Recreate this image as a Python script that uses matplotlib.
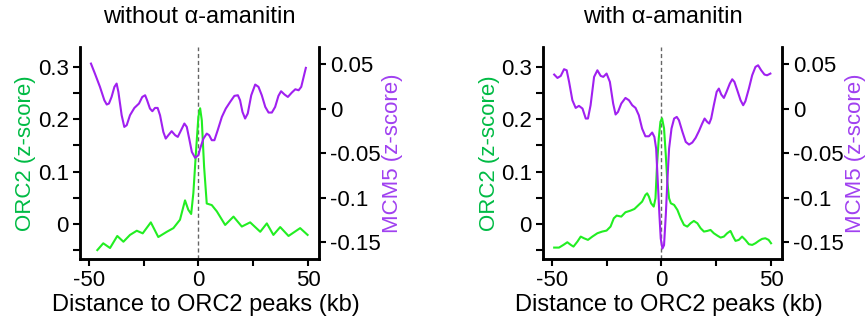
import matplotlib
matplotlib.use("Agg")
import matplotlib.pyplot as plt
from matplotlib.ticker import MultipleLocator

plt.rcParams["font.family"] = ["Liberation Sans", "DejaVu Sans"]

# panel 1: without alpha-amanitin
orc2_x_wo = [-46.1, -43.4, -40.3, -37.0, -34.2, -31.2, -28.1, -25.4, -21.7, -18.3,
             -14.4, -11.4, -8.4, -6.1, -4.6, -3.3, -2.3, -1.05, 0.0, 0.78,
             1.55, 2.6, 3.8, 6.1, 8.4, 12.2, 16.0, 19.8, 23.6, 28.2,
             31.2, 34.2, 37.3, 41.1, 46.4, 49.8]
orc2_y_wo = [-0.050, -0.037, -0.046, -0.023, -0.034, -0.021, -0.013, -0.018, 0.003, -0.025,
             -0.015, -0.008, 0.008, 0.045, 0.027, 0.019, 0.059, 0.141, 0.205, 0.221,
             0.198, 0.109, 0.039, 0.036, 0.024, -0.002, 0.014, -0.005, 0.003, -0.015,
             0.001, -0.021, -0.006, -0.023, -0.008, -0.021]

mcm5_x_wo = [-49.0, -47.2, -44.9, -42.9, -41.8, -40.8, -39.6, -38.3, -37.3, -36.5,
             -35.0, -33.8, -32.7, -31.2, -29.2, -27.1, -25.6, -24.3, -23.4, -22.1,
             -21.0, -19.8, -18.6, -17.5, -16.0, -14.9, -13.7, -12.2, -10.6, -9.4,
             -7.9, -6.4, -5.3, -4.2, -3.0, -1.5, 0.0, 0.78, 2.3, 3.8,
             4.9, 6.1, 7.3, 8.8, 10.7, 12.5, 14.5, 16.4, 18.0, 19.0,
             20.1, 21.3, 22.5, 24.1, 25.9, 27.4, 28.9, 30.5, 32.0, 33.5,
             35.0, 36.5, 37.7, 39.3, 40.8, 42.6, 44.2, 45.7, 46.9, 48.0,
             49.0]
mcm5_y_wo = [0.0504, 0.0392, 0.0243, 0.0093, 0.0045, 0.0056, 0.0130, 0.0243, 0.0280, 0.0187,
             -0.0075, -0.0206, -0.0187, -0.0075, 0.0007, 0.0056, 0.0130, 0.0149, 0.0093, 0.0000,
             -0.0030, 0.0007, 0.0007, -0.0075, -0.0262, -0.0337, -0.0299, -0.0254, -0.0299, -0.0318,
             -0.0243, -0.0168, -0.0206, -0.0337, -0.0486, -0.0553, -0.0523, -0.0449, -0.0337, -0.0281,
             -0.0299, -0.0355, -0.0355, -0.0243, -0.0094, 0.0000, 0.0075, 0.0142, 0.0149, 0.0093,
             -0.0038, -0.0112, -0.0056, 0.0149, 0.0269, 0.0243, 0.0149, 0.0018, -0.0045, -0.0045,
             0.0018, 0.0142, 0.0194, 0.0157, 0.0130, 0.0179, 0.0216, 0.0205, 0.0243, 0.0355,
             0.0456]

# panel 2: with alpha-amanitin
orc2_x_w = [-48.9, -46.7, -44.7, -42.9, -41.3, -40.1, -38.3, -36.8, -35.3, -33.5,
            -31.5, -29.2, -27.0, -25.0, -23.2, -21.7, -20.4, -18.3, -16.4, -14.1,
            -12.3, -10.7, -8.8, -7.3, -6.5, -5.7, -4.7, -3.5, -2.7, -2.0,
            -1.2, -0.44, 0.3, 1.2, 2.0, 2.7, 3.5, 4.3, 5.8, 7.3,
            8.8, 10.3, 11.8, 13.3, 14.8, 16.4, 17.9, 19.4, 20.9, 22.4,
            23.9, 25.5, 27.0, 28.5, 30.0, 31.5, 32.7, 33.8, 35.3, 36.8,
            38.3, 39.9, 41.4, 42.9, 44.4, 45.9, 47.4, 48.9, 50.0]
orc2_y_w = [-0.0452, -0.0452, -0.0401, -0.0350, -0.0401, -0.0433, -0.0337, -0.0242, -0.0274, -0.0305,
            -0.0242, -0.0178, -0.0146, -0.0127, -0.0051, 0.0108, 0.0159, 0.0140, 0.0223, 0.0254,
            0.0286, 0.0350, 0.0426, 0.0553, 0.0585, 0.0522, 0.0394, 0.0331, 0.0490, 0.1126,
            0.1635, 0.1953, 0.2017, 0.1826, 0.1317, 0.0808, 0.0490, 0.0394, 0.0363, 0.0267,
            0.0108, -0.0019, -0.0051, 0.0013, 0.0057, 0.0013, -0.0083, -0.0146, -0.0134, -0.0115,
            -0.0178, -0.0223, -0.0261, -0.0242, -0.0178, -0.0134, -0.0242, -0.0324, -0.0305, -0.0242,
            -0.0305, -0.0388, -0.0401, -0.0369, -0.0324, -0.0286, -0.0274, -0.0305, -0.0369]

mcm5_x_w = [-48.9, -47.4, -45.9, -44.4, -43.2, -42.1, -40.6, -39.1, -37.6, -36.0,
            -34.5, -33.5, -32.3, -30.7, -29.2, -27.7, -26.5, -25.0, -23.5, -22.0,
            -20.9, -19.8, -18.3, -16.4, -14.8, -13.3, -11.8, -10.3, -8.8, -7.3,
            -5.7, -4.2, -3.2, -2.4, -1.65, -0.9, -0.3, 0.47, 1.2, 2.0,
            2.7, 3.5, 4.6, 5.8, 7.0, 8.0, 9.6, 11.1, 12.6, 14.1,
            15.6, 17.1, 18.6, 19.7, 20.9, 21.8, 22.7, 23.9, 25.2, 26.2,
            27.3, 28.5, 29.7, 31.2, 32.3, 33.3, 34.6, 36.1, 37.3, 38.3,
            39.9, 41.4, 42.9, 44.1, 45.5, 47.0, 48.2, 49.7]
mcm5_y_w = [0.0381, 0.0343, 0.0366, 0.0441, 0.0429, 0.0299, 0.0093, 0.0007, 0.0030, 0.0000,
            -0.0112, -0.0112, 0.0037, 0.0355, 0.0429, 0.0366, 0.0355, 0.0392, 0.0299, 0.0056,
            -0.0067, -0.0038, 0.0056, 0.0119, 0.0093, 0.0037, 0.0007, -0.0075, -0.0225, -0.0311,
            -0.0311, -0.0269, -0.0318, -0.0449, -0.0822, -0.1196, -0.1458, -0.1570, -0.1532, -0.1196,
            -0.0822, -0.0449, -0.0225, -0.0112, -0.0094, -0.0131, -0.0262, -0.0374, -0.0404, -0.0381,
            -0.0329, -0.0254, -0.0168, -0.0112, -0.0150, -0.0168, -0.0112, 0.0037, 0.0187, 0.0224,
            0.0157, 0.0119, 0.0187, 0.0280, 0.0328, 0.0299, 0.0205, 0.0093, 0.0037, 0.0082,
            0.0224, 0.0373, 0.0467, 0.0485, 0.0429, 0.0381, 0.0373, 0.0392]

titles = ["without \u03b1-amanitin", "with \u03b1-amanitin"]
panels = [(orc2_x_wo, orc2_y_wo, mcm5_x_wo, mcm5_y_wo),
          (orc2_x_w, orc2_y_w, mcm5_x_w, mcm5_y_w)]

GREEN_LINE = "#22ee22"
GREEN_TEXT = "#00bb44"
PURPLE_LINE = "#a020f0"
PURPLE_TEXT = "#a040f0"
FS = 16


def style_axis(ax):
    ax.tick_params(length=5, width=1.5, labelsize=FS, pad=3)
    for s in ax.spines.values():
        s.set_linewidth(1.8)


fig = plt.figure(figsize=(8.66, 3.22), dpi=100)
lefts = [80 / 866, 543 / 866]
for left, title, (ox, oy, mx, my) in zip(lefts, titles, panels):
    ax = fig.add_axes([left, 63 / 322, 239 / 866, 212 / 322])
    ax2 = ax.twinx()

    ax.axvline(0, color="#666666", lw=1, ls=(0, (3, 2)), zorder=1)
    ax.plot(ox, oy, color=GREEN_LINE, lw=1.5, zorder=3)
    ax2.plot(mx, my, color=PURPLE_LINE, lw=1.5)

    ax.set_xlim(-54, 55)
    ax.set_ylim(-0.067, 0.338)
    ax2.set_ylim(-0.1687, 0.069)

    ax.set_xticks([-50, 0, 50])
    ax.set_xticklabels(["-50", "0", "50"])
    ax.xaxis.set_minor_locator(MultipleLocator(25))
    ax.set_yticks([0, 0.1, 0.2, 0.3])
    ax.set_yticklabels(["0", "0.1", "0.2", "0.3"])
    ax.yaxis.set_minor_locator(MultipleLocator(0.05))
    ax.tick_params(which="minor", length=5, width=1.5)
    ax2.set_yticks([0.05, 0, -0.05, -0.1, -0.15])
    ax2.set_yticklabels(["0.05", "0", "-0.05", "-0.1", "-0.15"])

    style_axis(ax)
    style_axis(ax2)
    ax.spines["top"].set_visible(False)
    ax2.spines["top"].set_visible(False)

    ax.set_xlabel("Distance to ORC2 peaks (kb)", fontsize=17)
    ax.xaxis.set_label_coords(0.527, -0.217)
    ax.xaxis.label.set_va("center")
    ax.set_ylabel("ORC2 (z-score)", color=GREEN_TEXT, fontsize=FS, labelpad=1)
    ax2.set_ylabel("MCM5 (z-score)", color=PURPLE_TEXT, fontsize=FS, labelpad=1)

    cx = left + 119.5 / 866
    fig.text(cx, 1 - 17 / 322, title, ha="center", va="center", fontsize=17)

fig.savefig("out.png", dpi=100)
